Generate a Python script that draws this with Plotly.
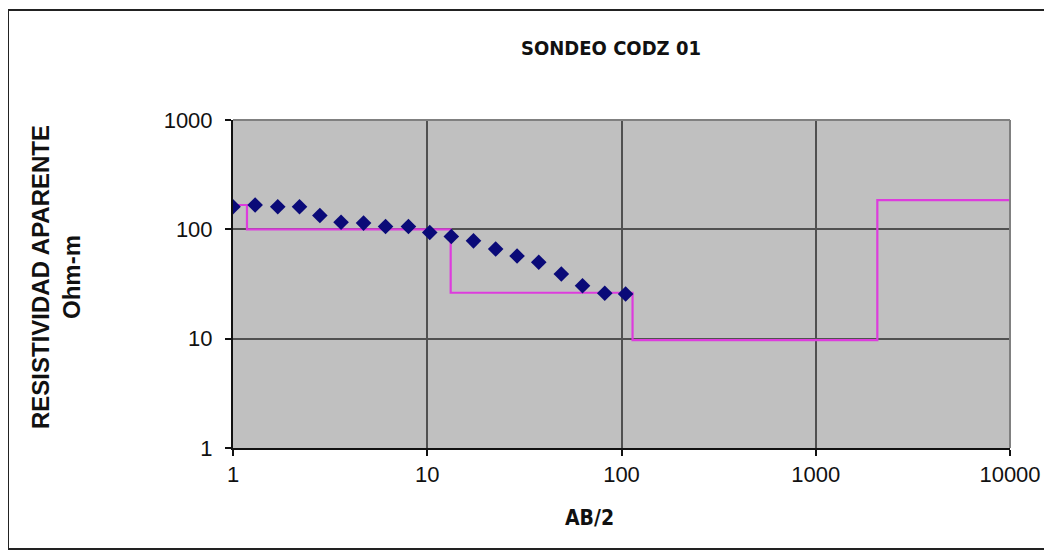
import plotly.graph_objects as go

# Field data: AB/2 (m) vs apparent resistivity (Ohm-m)
ab2 = [1, 1.3, 1.7, 2.2, 2.8, 3.6, 4.7, 6.1, 8, 10.3, 13.3, 17.3, 22.5, 29, 37.5, 49, 63, 82, 105]
rho_a = [161, 167, 161, 161, 134, 116, 114, 106, 106, 93.5, 86, 78.5, 66, 57, 50, 39, 30.5, 26, 25.6]

# Layered model (step curve)
model_x = [1, 1.18, 13.2, 114, 2075, 11300]
model_rho = [167, 100, 26.3, 9.7, 185, 185]

x_ticks = [1, 10, 100, 1000, 10000]
x_ticktext = ["1", "10", "100", "1000", "10000"]
y_ticks = [1, 10, 100, 1000]
y_ticktext = ["1", "10", "100", "1000"]

OFF = 8  # page body margin
W, H = 1052 - OFF, 553 - OFF
L, R, T, B = 233 - OFF, 1010 - OFF, 120 - OFF, 448 - OFF

fig = go.Figure()
fig.add_trace(go.Scatter(
    x=model_x, y=model_rho, mode="lines", line_shape="hv",
    line=dict(color="#DD3CDD", width=2.2), cliponaxis=False, showlegend=False,
))
fig.add_trace(go.Scatter(
    x=ab2, y=rho_a, mode="markers",
    marker=dict(symbol="diamond", size=12, color="#0A0A78"),
    showlegend=False,
))

tickfont = dict(family="Liberation Sans, Arial, sans-serif", size=22, color="#111111")
fig.update_xaxes(
    type="log", range=[0, 4], tickvals=x_ticks, ticktext=x_ticktext,
    showgrid=True, gridcolor="#505050", gridwidth=2,
    showline=True, linecolor="#111111", linewidth=2,
    ticks="outside", ticklen=6, tickcolor="#111111", tickwidth=1.5,
    tickfont=tickfont, zeroline=False, minor=dict(showgrid=False),
)
fig.update_yaxes(
    type="log", range=[0, 3], tickvals=y_ticks, ticktext=y_ticktext,
    showgrid=True, gridcolor="#505050", gridwidth=2,
    showline=True, linecolor="#111111", linewidth=2,
    ticks="outside", ticklen=6, tickcolor="#111111", tickwidth=1.5,
    tickfont=tickfont, zeroline=False, minor=dict(showgrid=False),
    ticklabelstandoff=8,
)

def px_x(p):
    return (p - OFF - L) / (R - L)

def px_y(p):
    return (B - (p - OFF)) / (B - T)

bold_font = "DejaVu Sans Condensed, Liberation Sans Narrow, Liberation Sans, Arial, sans-serif"
plain_bold = "Liberation Sans, Arial, sans-serif"

fig.update_layout(
    width=W, height=H,
    margin=dict(l=L, r=W - R, t=T, b=H - B, pad=0),
    paper_bgcolor="white", plot_bgcolor="#C0C0C0",
    title=dict(text="<b>SONDEO CODZ 01</b>", x=(611 - OFF) / W, xanchor="center",
               y=1 - (48 - OFF) / H, yanchor="middle",
               font=dict(family=bold_font, size=20, color="#111111")),
    annotations=[
        dict(text="<b>RESISTIVIDAD APARENTE<br>Ohm-m</b>", textangle=-90,
             x=px_x(56), y=px_y(277), xref="paper", yref="paper",
             showarrow=False, xanchor="center", yanchor="middle",
             font=dict(family=plain_bold, size=24, color="#111111")),
        dict(text="<b>AB/2</b>", x=px_x(589), y=px_y(518), xref="paper", yref="paper",
             showarrow=False, xanchor="center", yanchor="middle",
             font=dict(family=bold_font, size=21, color="#111111")),
    ],
    shapes=[
        # outer chart frame
        dict(type="rect", xref="paper", yref="paper",
             x0=px_x(8), x1=px_x(1051), y0=px_y(549), y1=px_y(10),
             line=dict(color="#222222", width=2), layer="below"),
        # top and right plot-area borders (gray)
        dict(type="line", xref="paper", yref="paper", x0=0, x1=1, y0=1, y1=1,
             line=dict(color="#808080", width=2)),
        dict(type="line", xref="paper", yref="paper", x0=1, x1=1, y0=0, y1=1,
             line=dict(color="#808080", width=2)),
    ],
)

fig.write_html("out.html")
